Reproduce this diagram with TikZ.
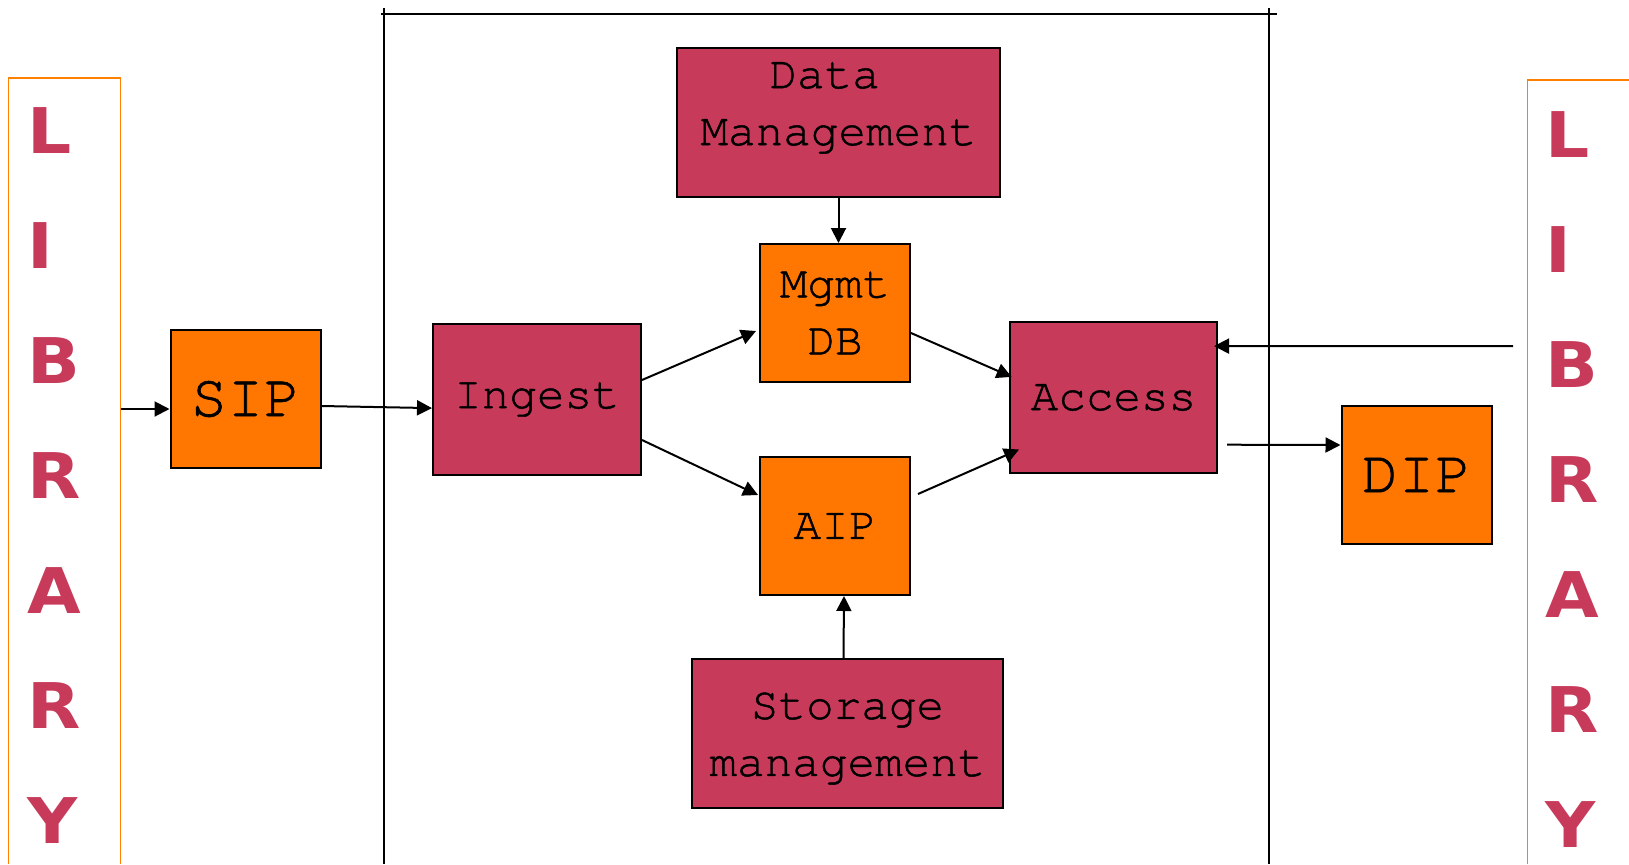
\documentclass[tikz,border=0pt]{standalone}
\usepackage{fontspec}
\setmonofont[FakeBold=1]{TeX Gyre Cursor}
\newfontfamily\libfont[FakeStretch=1.1]{DejaVu Sans}
\usetikzlibrary{arrows.meta}

\definecolor{crimson}{RGB}{200,58,90}
\definecolor{pkgorange}{RGB}{255,119,0}
\definecolor{libedge}{RGB}{255,128,0}

\tikzset{
  func/.style={draw=black, line width=1pt, fill=crimson, align=center, inner sep=0pt,
    font=\ttfamily\fontsize{23}{28.5}\selectfont},
  pkg/.style={draw=black, line width=1pt, fill=pkgorange, align=center, inner sep=0pt,
    minimum width=75pt, minimum height=69pt},
  letters/.style={text=crimson, align=left, inner sep=0pt,
    font=\libfont\bfseries\fontsize{31.5}{57.5}\selectfont},
  flow/.style={-{Triangle[length=7.5pt,width=7.5pt]}, line width=1pt},
}

\begin{document}
\begin{tikzpicture}[x=0.5pt, y=-0.5pt]
  \useasboundingbox (0,0) rectangle (1629,864);

  % library on both sides
  \draw[libedge, line width=0.6pt] (8.7,864) -- (8.7,78) -- (120.3,78) -- (120.3,864);
  \draw[libedge, line width=0.6pt] (1527.3,864) -- (1527.3,80) -- (1640,80);
  \node[letters, anchor=north west] (libleft) at (27.5,107) {L\\I\\B\\R\\A\\R\\Y};
  \node[letters, anchor=north west] (libright) at (1545.5,111) {L\\I\\B\\R\\A\\R\\Y};
  \coordinate (libL) at (121,409);
  \coordinate (libR) at (1513,346);

  % archive frame
  \draw[line width=1pt] (381,13.5) -- (1277,13.5);
  \draw[line width=1pt] (384,8) -- (384,864);
  \draw[line width=1pt] (1269,8) -- (1269,864);

  % packages
  \node[pkg, font=\ttfamily\fontsize{30.5}{36}\selectfont] (sip) at (245.5,399) {SIP};
  \node[pkg, font=\ttfamily\fontsize{30.5}{36}\selectfont] (dip) at (1416.5,475) {DIP};
  \node[pkg, font=\ttfamily\fontsize{23}{28.5}\selectfont] (mgmt) at (835,313) {Mgmt\\DB};
  \node[pkg, font=\ttfamily\fontsize{23}{28.5}\selectfont] (aip) at (835,526) {AIP};

  % functions
  \node[func, minimum width=104pt, minimum height=75.5pt] (ingest) at (537,399.5) {Ingest};
  \node[func, minimum width=103.5pt, minimum height=75.5pt] (access) at (1113.5,397.5) {Access};
  \node[func, minimum width=161.5pt, minimum height=74.5pt,
    label={[yshift=7.3pt, align=center, font=\ttfamily\fontsize{23}{28.5}\selectfont]center:Data\hphantom{M}\\Management}] (dm) at (838.5,122.5) {};
  \node[func, minimum width=155.5pt, minimum height=74.5pt,
    label={[yshift=-2.5pt, align=center, font=\ttfamily\fontsize{23}{28.5}\selectfont]center:Storage\\management}] (st) at (847.5,733.5) {};

  % flows
  \draw[flow] (libL) -- ([yshift=-5pt]sip.west);
  \draw[flow] ([yshift=-3.5pt]sip.east) -- ([yshift=-4.3pt]ingest.west);
  \draw[flow] ([yshift=9.75pt]ingest.east) -- ([shift={(-1.5pt,-9pt)}]mgmt.west);
  \draw[flow] ([yshift=-20.25pt]ingest.east) -- ([shift={(-0.5pt,15.5pt)}]aip.west);
  \draw[flow] (dm.south) -- (dm.south |- mgmt.north);
  \draw[flow] ([xshift=-2pt]st.north) -- ([xshift=4.5pt]aip.south);
  \draw[flow] ([yshift=-10pt]mgmt.east) -- ([shift={(1.3pt,10.3pt)}]access.west);
  \draw[flow] ([shift={(3.5pt,16pt)}]aip.east) -- ([shift={(5pt,-26pt)}]access.west);
  \draw[flow] (libR) -- ([shift={(-2pt,25.7pt)}]access.east);
  \draw[flow] ([shift={(4.5pt,-23.6pt)}]access.east) -- ([yshift=15pt]dip.west);
\end{tikzpicture}
\end{document}
